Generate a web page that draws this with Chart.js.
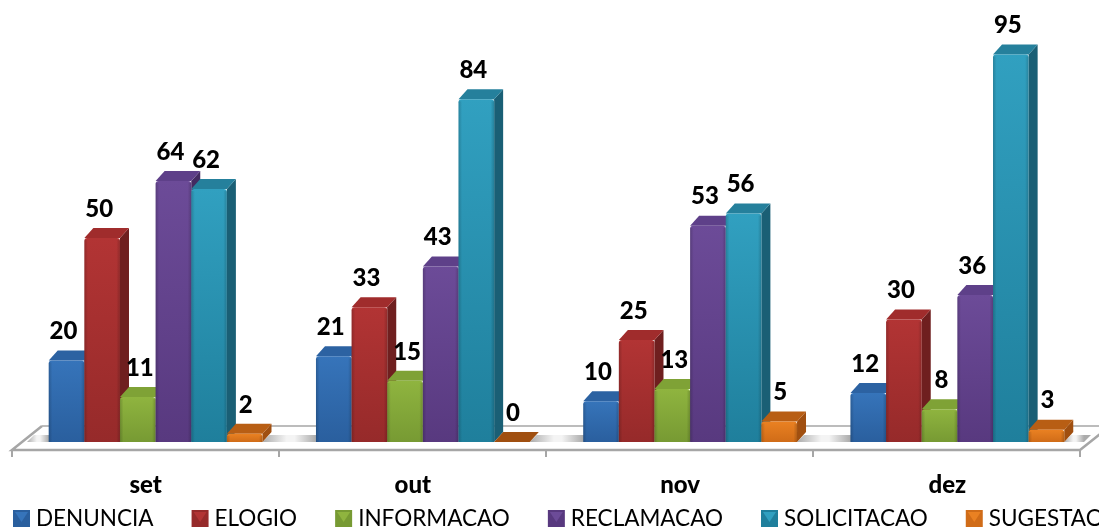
<!DOCTYPE html>
<html>
<head>
<meta charset="utf-8">
<style>
  html, body { margin: 0; padding: 0; background: #fff; overflow: hidden; }
  canvas { display: block; }
</style>
<script src="https://cdn.jsdelivr.net/npm/chart.js@4"></script>
</head>
<body>
<canvas id="chart" width="1099" height="529"></canvas>
<script>
// Chart values
const categories = ['set', 'out', 'nov', 'dez'];
const denuncia = [20, 21, 10, 12];
const elogio = [50, 33, 25, 30];
const informacao = [11, 15, 13, 8];
const reclamacao = [64, 43, 53, 36];
const solicitacao = [62, 84, 56, 95];
const sugestao = [2, 0, 5, 3];
const seriesNames = ['DENUNCIA', 'ELOGIO', 'INFORMACAO', 'RECLAMACAO', 'SOLICITACAO', 'SUGESTAO'];
const seriesValues = [denuncia, elogio, informacao, reclamacao, solicitacao, sugestao];

// Face colours for each series: light, dark, side, top
const palette = [
    ['#3674BA', '#2A5F9E', '#1F4A7C', '#2C62A2'],
    ['#B23434', '#962A2A', '#6F1F1F', '#A02C2C'],
    ['#8FB43F', '#779A33', '#5B7627', '#7FA236'],
    ['#6C4B98', '#58397F', '#432B61', '#5E4089'],
    ['#31A0C0', '#1F7F9C', '#1A5F75', '#25809C'],
    ['#EA8122', '#D06C18', '#A04F10', '#B85E14']
];

const DEPTH_X = 9;
const DEPTH_Y = 10;
const FONT = 'Lato, Carlito, "Open Sans", sans-serif';
// horizontal nudge of the value labels per series
const labelShift = [-3, -3, 2, -3, -3, 1];

function polygon(ctx, points, fill) {
    ctx.beginPath();
    points.forEach((p, i) => (i ? ctx.lineTo(p[0], p[1]) : ctx.moveTo(p[0], p[1])));
    ctx.closePath();
    ctx.fillStyle = fill;
    ctx.fill();
}

// Grey shadow on the floor, fading out towards the middle of a gap
function floorShadow(ctx, from, to, bottom) {
    const grad = ctx.createLinearGradient(from, 0, to, 0);
    grad.addColorStop(0, '#ABABAB');
    grad.addColorStop(0.45, '#F4F4F4');
    grad.addColorStop(0.6, '#F4F4F4');
    grad.addColorStop(1, '#ABABAB');
    polygon(ctx, [[from, bottom], [to, bottom], [to + 7, bottom - 7], [from + 7, bottom - 7]], grad);
}

function drawFloor(chart) {
    const { ctx, chartArea } = chart;
    const bottom = chartArea.bottom;
    const left = chartArea.left - 10;
    const right = chartArea.right - 11;
    const front = bottom + 7;
    const back = bottom - 16;

    ctx.save();
    polygon(ctx, [[left, front], [right, front], [right + 30, back], [left + 30, back]], '#FFFFFF');

    const first = chart.getDatasetMeta(0).data;
    const last = chart.getDatasetMeta(5).data;
    floorShadow(ctx, left + 15, first[0].x - first[0].width / 2, bottom);
    for (let i = 0; i < categories.length - 1; i++) {
        floorShadow(ctx, last[i].x + last[i].width / 2, first[i + 1].x - first[i + 1].width / 2, bottom);
    }
    floorShadow(ctx, last[3].x + last[3].width / 2, right + 4, bottom);

    ctx.strokeStyle = '#A6A6A6';
    ctx.lineWidth = 2.5;
    ctx.beginPath();
    ctx.moveTo(left + 30, back);
    ctx.lineTo(left, front + 1);
    ctx.lineTo(right, front + 1);
    ctx.lineTo(right + 30, back);
    ctx.stroke();

    ctx.lineWidth = 1.5;
    ctx.beginPath();
    ctx.moveTo(left + 30, back);
    ctx.lineTo(right + 30, back);
    ctx.stroke();

    // tick marks sit on the front edge of the floor
    ctx.lineWidth = 2;
    ctx.beginPath();
    for (let i = 0; i <= categories.length; i++) {
        const x = left + (right - left) * i / categories.length;
        ctx.moveTo(x, front + 1);
        ctx.lineTo(x, front + 8);
    }
    ctx.stroke();
    ctx.restore();
}

function drawFaces(ctx, meta, colors) {
    meta.data.forEach((bar) => {
        const l = bar.x - bar.width / 2;
        const r = bar.x + bar.width / 2;
        const t = bar.y;
        const b = bar.base;
        polygon(ctx, [[r, b], [r + DEPTH_X, b - DEPTH_Y], [r + DEPTH_X, t - DEPTH_Y], [r, t]], colors[2]);
        polygon(ctx, [[l, t], [r, t], [r + DEPTH_X, t - DEPTH_Y], [l + DEPTH_X, t - DEPTH_Y]],
            t === b ? colors[2] : colors[3]);
    });
}

// soft dark edges on the front face
function drawEdges(ctx, meta) {
    meta.data.forEach((bar) => {
        const l = bar.x - bar.width / 2;
        if (bar.base - bar.y < 1) return;
        const grad = ctx.createLinearGradient(l, 0, l + bar.width, 0);
        grad.addColorStop(0, 'rgba(0,0,0,0.18)');
        grad.addColorStop(0.1, 'rgba(0,0,0,0)');
        grad.addColorStop(0.9, 'rgba(0,0,0,0)');
        grad.addColorStop(1, 'rgba(0,0,0,0.18)');
        ctx.fillStyle = grad;
        ctx.fillRect(l, bar.y + 2, bar.width, bar.base - bar.y - 2);
    });
}

// Chart.js paints the first dataset last, the boxes need left to right
const boxPlugin = {
    id: 'box',
    beforeDatasetDraw() {
        return false;
    },
    beforeDatasetsDraw(chart) {
        const { ctx } = chart;
        drawFloor(chart);
        ctx.save();
        seriesValues.forEach((values, i) => {
            const meta = chart.getDatasetMeta(i);
            drawFaces(ctx, meta, palette[i]);
            meta.controller.draw();
            drawEdges(ctx, meta);
        });
        ctx.restore();
    }
};

const labelPlugin = {
    id: 'valueLabels',
    afterDatasetsDraw(chart) {
        const { ctx } = chart;
        ctx.save();
        ctx.font = '900 24px ' + FONT;
        ctx.fillStyle = '#000';
        ctx.textAlign = 'center';
        ctx.textBaseline = 'middle';
        seriesValues.forEach((values, i) => {
            chart.getDatasetMeta(i).data.forEach((bar, j) => {
                ctx.fillText(values[j], bar.x + labelShift[i], bar.y - 29);
            });
        });
        ctx.restore();
    }
};

const legendPlugin = {
    id: 'bottomLegend',
    afterDraw(chart) {
        const { ctx } = chart;
        const size = 17;
        const top = 510;
        let x = 13;
        ctx.save();
        ctx.font = '22.5px ' + FONT;
        ctx.textBaseline = 'alphabetic';
        ctx.textAlign = 'left';
        seriesNames.forEach((name, i) => {
            const colors = palette[i];
            polygon(ctx, [[x, top], [x + size, top], [x + size, top + size], [x, top + size]], colors[1]);
            polygon(ctx, [[x + 2, top + 2], [x + size - 2, top + 2], [x + size / 2, top + size - 5]], colors[0]);
            ctx.fillStyle = '#000';
            ctx.fillText(name, x + size + 6, top + 16);
            x += size + 6 + ctx.measureText(name).width + 38;
        });
        ctx.restore();
    }
};

// Vertical shading of each bar, lighter at its top
function frontFill(context) {
    const { chart, datasetIndex, dataIndex } = context;
    const colors = palette[datasetIndex];
    const y = chart.scales.y;
    if (!y || dataIndex === undefined) return colors[0];
    const value = seriesValues[datasetIndex][dataIndex];
    const top = y.getPixelForValue(value);
    const bottom = y.getPixelForValue(0);
    if (!isFinite(top) || !isFinite(bottom)) return colors[0];
    const grad = chart.ctx.createLinearGradient(0, top, 0, bottom);
    grad.addColorStop(0, colors[0]);
    grad.addColorStop(1, colors[1]);
    return grad;
}

new Chart(document.getElementById('chart'), {
    type: 'bar',
    data: {
        labels: categories,
        datasets: seriesNames.map((name, i) => ({
            label: name,
            data: seriesValues[i],
            backgroundColor: frontFill,
            borderRadius: { topLeft: 3, topRight: 3 },
            borderSkipped: 'bottom',
            categoryPercentage: 0.8,
            barPercentage: 1
        }))
    },
    options: {
        responsive: false,
        animation: false,
        devicePixelRatio: 1,
        layout: { padding: { left: 22, right: 8, top: 34, bottom: 0 } },
        plugins: {
            legend: { display: false },
            tooltip: { enabled: false },
            title: { display: false }
        },
        scales: {
            x: {
                grid: { display: false },
                border: { display: false },
                ticks: {
                    color: '#000',
                    padding: 21,
                    labelOffset: -10,
                    maxRotation: 0,
                    font: { family: FONT, size: 24, weight: '900' }
                },
                afterFit(scale) { scale.height = 87; }
            },
            y: {
                display: false,
                min: 0,
                max: 100
            }
        }
    },
    plugins: [boxPlugin, labelPlugin, legendPlugin]
});
</script>
</body>
</html>
